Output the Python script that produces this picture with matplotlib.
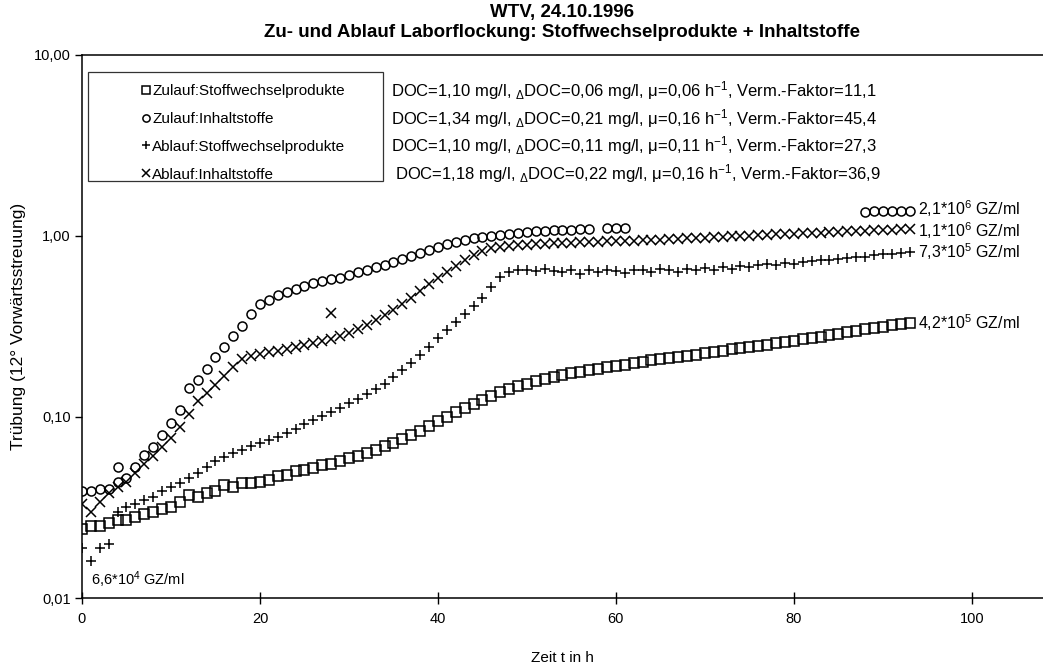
import matplotlib
matplotlib.use("Agg")
import matplotlib.pyplot as plt
import numpy as np
from matplotlib.patches import Rectangle

plt.rcParams["font.family"] = ["Liberation Sans", "DejaVu Sans"]
plt.rcParams["mathtext.fontset"] = "custom"
plt.rcParams["mathtext.rm"] = "Liberation Sans"
plt.rcParams["mathtext.it"] = "Liberation Sans:italic"
plt.rcParams["mathtext.bf"] = "Liberation Sans:bold"
plt.rcParams["mathtext.default"] = "regular"

zeit_h = [
    0, 1, 2, 3, 4, 5, 6, 7, 8, 9,
    10, 11, 12, 13, 14, 15, 16, 17, 18, 19,
    20, 21, 22, 23, 24, 25, 26, 27, 28, 29,
    30, 31, 32, 33, 34, 35, 36, 37, 38, 39,
    40, 41, 42, 43, 44, 45, 46, 47, 48, 49,
    50, 51, 52, 53, 54, 55, 56, 57, 58, 59,
    60, 61, 62, 63, 64, 65, 66, 67, 68, 69,
    70, 71, 72, 73, 74, 75, 76, 77, 78, 79,
    80, 81, 82, 83, 84, 85, 86, 87, 88, 89,
    90, 91, 92, 93,
]

zulauf_stoffw = [
    0.024, 0.025, 0.025, 0.026, 0.027, 0.027, 0.028, 0.029, 0.030, 0.031,
    0.032, 0.034, 0.037, 0.036, 0.038, 0.039, 0.042, 0.041, 0.043, 0.043,
    0.044, 0.045, 0.047, 0.048, 0.050, 0.051, 0.052, 0.054, 0.055, 0.057,
    0.059, 0.061, 0.063, 0.066, 0.069, 0.072, 0.076, 0.080, 0.084, 0.089,
    0.095, 0.100, 0.106, 0.112, 0.118, 0.124, 0.131, 0.137, 0.143, 0.148,
    0.153, 0.158, 0.163, 0.167, 0.171, 0.175, 0.178, 0.182, 0.185, 0.188,
    0.191, 0.194, 0.198, 0.202, 0.206, 0.209, 0.212, 0.215, 0.218, 0.221,
    0.225, 0.229, 0.232, 0.236, 0.240, 0.243, 0.247, 0.251, 0.255, 0.259,
    0.263, 0.268, 0.272, 0.277, 0.282, 0.288, 0.294, 0.300, 0.306, 0.311,
    0.316, 0.321, 0.326, 0.330,
]

nan = np.nan
zulauf_inhalt = [
    0.039, 0.039, 0.040, 0.040, 0.044, 0.046, 0.053, 0.062, 0.068, 0.080,
    0.093, 0.109, 0.145, 0.160, 0.185, 0.215, 0.245, 0.280, 0.320, 0.370,
    0.420, 0.445, 0.470, 0.490, 0.510, 0.530, 0.550, 0.565, 0.575, 0.585,
    0.610, 0.630, 0.650, 0.670, 0.690, 0.715, 0.745, 0.780, 0.810, 0.840,
    0.870, 0.900, 0.925, 0.950, 0.970, 0.985, 1.000, 1.015, 1.030, 1.040,
    1.050, 1.060, 1.070, 1.075, 1.080, 1.085, 1.090, 1.092, nan, 1.100,
    1.105, 1.110, nan, nan, nan, nan, nan, nan, nan, nan,
    nan, nan, nan, nan, nan, nan, nan, nan, nan, nan,
    nan, nan, nan, nan, nan, nan, nan, nan, 1.365, 1.370,
    1.370, 1.370, 1.375, 1.375,
]

ablauf_stoffw = [
    0.019, 0.016, 0.019, 0.020, 0.030, 0.032, 0.033, 0.035, 0.036, 0.039,
    0.041, 0.043, 0.046, 0.049, 0.053, 0.057, 0.060, 0.063, 0.066, 0.069,
    0.072, 0.075, 0.078, 0.082, 0.086, 0.091, 0.096, 0.101, 0.106, 0.112,
    0.119, 0.126, 0.134, 0.143, 0.153, 0.167, 0.182, 0.200, 0.220, 0.245,
    0.272, 0.302, 0.335, 0.370, 0.410, 0.455, 0.520, 0.590, 0.630, 0.650,
    0.650, 0.640, 0.660, 0.640, 0.630, 0.650, 0.620, 0.645, 0.630, 0.650,
    0.640, 0.625, 0.645, 0.650, 0.635, 0.655, 0.645, 0.630, 0.660, 0.650,
    0.665, 0.650, 0.675, 0.660, 0.680, 0.670, 0.690, 0.700, 0.690, 0.710,
    0.700, 0.720, 0.730, 0.740, 0.735, 0.750, 0.760, 0.770, 0.770, 0.790,
    0.795, 0.800, 0.810, 0.820,
]

ablauf_inhalt = [
    0.033, 0.030, 0.034, 0.038, 0.041, 0.044, 0.049, 0.055, 0.061, 0.068,
    0.077, 0.088, 0.104, 0.122, 0.135, 0.150, 0.168, 0.188, 0.208, 0.218,
    0.224, 0.229, 0.233, 0.238, 0.243, 0.249, 0.255, 0.262, 0.270, 0.280,
    0.292, 0.305, 0.322, 0.342, 0.365, 0.390, 0.420, 0.455, 0.495, 0.540,
    0.585, 0.635, 0.685, 0.735, 0.785, 0.830, 0.855, 0.870, 0.880, 0.888,
    0.895, 0.900, 0.905, 0.910, 0.914, 0.918, 0.922, 0.926, 0.930, 0.934,
    0.937, 0.940, 0.944, 0.947, 0.950, 0.955, 0.960, 0.965, 0.970, 0.975,
    0.980, 0.985, 0.990, 0.995, 1.000, 1.005, 1.010, 1.015, 1.020, 1.025,
    1.030, 1.035, 1.040, 1.045, 1.050, 1.055, 1.060, 1.065, 1.070, 1.075,
    1.080, 1.085, 1.090, 1.095,
]

# einzelne Ausreisser
ausr_inhalt_zu_t = [4.0]
ausr_inhalt_zu_v = [0.053]
ausr_inhalt_ab_t = [28.0]
ausr_inhalt_ab_v = [0.376]

serien = [
    ("Zulauf:Stoffwechselprodukte", zulauf_stoffw, "s", 6.5),
    ("Zulauf:Inhaltstoffe", zulauf_inhalt, "o", 6.5),
    ("Ablauf:Stoffwechselprodukte", ablauf_stoffw, "+", 7.5),
    ("Ablauf:Inhaltstoffe", ablauf_inhalt, "x", 6.5),
]

doc_texte = [
    "DOC=1,10 mg/l, $_{\u0394}$DOC=0,06 mg/l, \u03bc=0,06 h$^{-1}$, Verm.-Faktor=11,1",
    "DOC=1,34 mg/l, $_{\u0394}$DOC=0,21 mg/l, \u03bc=0,16 h$^{-1}$, Verm.-Faktor=45,4",
    "DOC=1,10 mg/l, $_{\u0394}$DOC=0,11 mg/l, \u03bc=0,11 h$^{-1}$, Verm.-Faktor=27,3",
    "DOC=1,18 mg/l, $_{\u0394}$DOC=0,22 mg/l, \u03bc=0,16 h$^{-1}$, Verm.-Faktor=36,9",
]

end_labels = [
    "4,2*10$^{5}$ GZ/ml",
    "2,1*10$^{6}$ GZ/ml",
    "7,3*10$^{5}$ GZ/ml",
    "1,1*10$^{6}$ GZ/ml",
]
end_label_dy = [0, 1.5, 0, -1.0]
start_label = "6,6*10$^{4}$ GZ/ml"

y_ticks = [0.01, 0.1, 1, 10]
y_ticklabels = ["0,01", "0,10", "1,00", "10,00"]
x_ticks = [0, 20, 40, 60, 80, 100]

fig = plt.figure(figsize=(10.43, 6.72), dpi=100)
ax = fig.add_axes([0.0786, 0.1101, 0.9214, 0.8081])

handles = []
for (name, werte, marker, ms) in serien:
    (h,) = ax.plot(zeit_h, werte, linestyle="none", marker=marker, markersize=ms,
                   markerfacecolor="none", markeredgecolor="black",
                   markeredgewidth=1.1, color="black", label=name)
    handles.append(h)

ax.plot(ausr_inhalt_zu_t, ausr_inhalt_zu_v, linestyle="none", marker="o", markersize=6.5,
        markerfacecolor="none", markeredgecolor="black", markeredgewidth=1.1)
ax.plot(ausr_inhalt_ab_t, ausr_inhalt_ab_v, linestyle="none", marker="x", markersize=6.5,
        markerfacecolor="none", markeredgecolor="black", markeredgewidth=1.1)

ax.set_yscale("log")
ax.set_ylim(0.01, 10)
ax.set_xlim(0, 108)
ax.set_yticks(y_ticks)
ax.set_yticklabels(y_ticklabels)
ax.set_xticks(x_ticks)
ax.minorticks_off()
ax.tick_params(axis="y", direction="out", length=5, width=1, labelsize=10.5, pad=3)
ax.tick_params(axis="x", direction="inout", length=8, width=1, labelsize=10.5, pad=6)
for side in ["left", "bottom", "top"]:
    ax.spines[side].set_linewidth(1.1)
ax.spines["right"].set_visible(False)

ax.set_xlabel("Zeit t in h", fontsize=11, labelpad=18)
ax.set_ylabel("Tr\u00fcbung (12\u00b0 Vorw\u00e4rtsstreuung)", fontsize=12.5, labelpad=6)
ax.set_title("WTV, 24.10.1996\nZu- und Ablauf Laborflockung: Stoffwechselprodukte + Inhaltstoffe",
             fontsize=13.5, fontweight="bold", pad=13, linespacing=1.25)

# Legendenrahmen
ax.add_patch(Rectangle((0.0062, 0.768), 0.307, 0.2007, transform=ax.transAxes,
                       fill=False, edgecolor="#333333", linewidth=0.9, zorder=5))
ax.legend(handles=handles, loc="upper left", bbox_to_anchor=(0.061, 0.946),
          frameon=False, fontsize=11, markerscale=0.8, handlelength=0.7,
          handletextpad=0.05, labelspacing=0.9, borderpad=0, borderaxespad=0)

doc_y = [0.9337, 0.8821, 0.8324, 0.7809]
doc_x = [0.3215, 0.3215, 0.3215, 0.3257]
for txt, xx, yy in zip(doc_texte, doc_x, doc_y):
    ax.text(xx, yy, txt, transform=ax.transAxes, fontsize=12, va="center", ha="left")

# Beschriftung am Ende jeder Reihe
for (name, werte, marker, ms), lab, dy in zip(serien, end_labels, end_label_dy):
    ax.annotate(lab, xy=(zeit_h[-1], werte[-1]), xytext=(6, dy), textcoords="offset points",
                fontsize=11.5, va="center", ha="left")

ax.annotate(start_label, xy=(zeit_h[1], ablauf_stoffw[1]), xytext=(0, -6),
            textcoords="offset points", fontsize=10.5, va="top", ha="left")

fig.savefig("out.png", dpi=100)
